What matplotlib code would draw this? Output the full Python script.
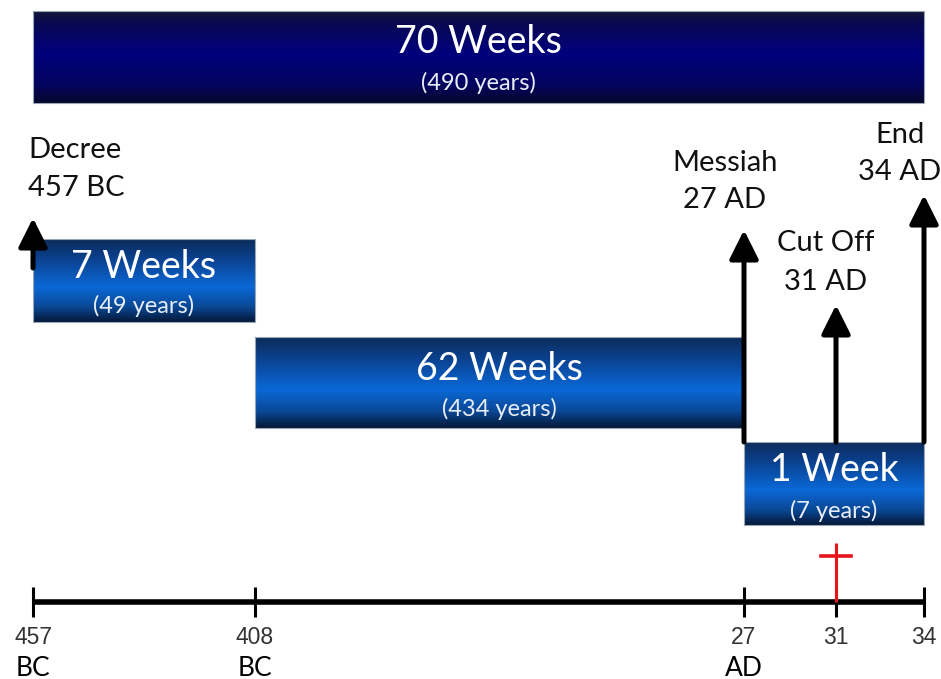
import numpy as np
import matplotlib
matplotlib.use("Agg")
import matplotlib.pyplot as plt
from matplotlib.colors import LinearSegmentedColormap

# ---------------- data ----------------
periods = ["70 Weeks", "7 Weeks", "62 Weeks", "1 Week"]
period_years = ["(490 years)", "(49 years)", "(434 years)", "(7 years)"]
period_start = [-457, -457, -408, 27]
period_end = [34, -408, 27, 34]

event_names = ["Decree", "Messiah", "Cut Off", "End"]
event_dates = ["457 BC", "27 AD", "31 AD", "34 AD"]
event_year = [-457, 27, 31, 34]

tick_years = [-457, -408, 27, 31, 34]
tick_nums = ["457", "408", "27", "31", "34"]
tick_era = ["BC", "BC", "AD", "", ""]

cross_year = 31

# ---------------- layout (schematic, non-linear time axis) ----------------
W, H = 941, 679
ANCHOR_YEARS = np.array([-457, -408, 27, 31, 34], dtype=float)
ANCHOR_PX = np.array([33, 255, 744, 836, 924], dtype=float)


def fwd(x):
    x = np.asarray(x, dtype=float)
    out = np.interp(x, ANCHOR_YEARS, ANCHOR_PX)
    s0 = (ANCHOR_PX[1] - ANCHOR_PX[0]) / (ANCHOR_YEARS[1] - ANCHOR_YEARS[0])
    s1 = (ANCHOR_PX[-1] - ANCHOR_PX[-2]) / (ANCHOR_YEARS[-1] - ANCHOR_YEARS[-2])
    out = np.where(x < ANCHOR_YEARS[0], ANCHOR_PX[0] + (x - ANCHOR_YEARS[0]) * s0, out)
    out = np.where(x > ANCHOR_YEARS[-1], ANCHOR_PX[-1] + (x - ANCHOR_YEARS[-1]) * s1, out)
    return out


def inv(p):
    p = np.asarray(p, dtype=float)
    out = np.interp(p, ANCHOR_PX, ANCHOR_YEARS)
    s0 = (ANCHOR_YEARS[1] - ANCHOR_YEARS[0]) / (ANCHOR_PX[1] - ANCHOR_PX[0])
    s1 = (ANCHOR_YEARS[-1] - ANCHOR_YEARS[-2]) / (ANCHOR_PX[-1] - ANCHOR_PX[-2])
    out = np.where(p < ANCHOR_PX[0], ANCHOR_YEARS[0] + (p - ANCHOR_PX[0]) * s0, out)
    out = np.where(p > ANCHOR_PX[-1], ANCHOR_YEARS[-1] + (p - ANCHOR_PX[-1]) * s1, out)
    return out


bar_rows = [(11, 103), (239, 322), (337, 428), (442, 525)]
title_y = [42, 267, 369, 470]
sub_y = [83, 306, 409, 511]
title_size = [27, 27, 27, 27]
sub_size = [17, 17, 17, 17]

navy = LinearSegmentedColormap.from_list(
    "navy", [(0, "#14143a"), (0.12, "#080850"), (0.45, "#00007c"), (0.8, "#040460"), (1, "#06062e")])
blue = LinearSegmentedColormap.from_list(
    "blue", [(0, "#0c2c5a"), (0.22, "#0a3f8c"), (0.58, "#0a68d6"), (0.82, "#0a4896"), (1, "#041a3c")])
bar_cmaps = [navy, blue, blue, blue]

arrow_bottom = [268, 442, 442, 442]
arrow_top = [218, 230, 305, 195]
label_dx = [-5, -19, -10, -24]
label_ha = ["left", "center", "center", "center"]
label_y1 = [150, 163, 243, 135]
label_y2 = [188, 200, 282, 172]

LABEL_FONT = ["Lato", "DejaVu Sans"]
NUM_FONT = ["Liberation Sans", "DejaVu Sans"]

fig = plt.figure(figsize=(W / 100, H / 100), dpi=100)
ax = fig.add_axes([0, 0, 1, 1])
ax.set_xscale("function", functions=(fwd, inv))
ax.set_xlim(float(inv(0)), float(inv(W)))
ax.set_ylim(H, 0)
ax.axis("off")

# ---------------- gradient bars ----------------
n = 60
for i, (s, e) in enumerate(zip(period_start, period_end)):
    top, bot = bar_rows[i]
    edges = np.linspace(top, bot, n + 1)
    centers = (edges[:-1] + edges[1:]) / 2
    hgt = (bot - top) / n
    cols = [bar_cmaps[i](k / (n - 1)) for k in range(n)]
    ax.barh(centers, [e - s] * n, left=s, height=hgt * 1.05, color=cols, linewidth=0, zorder=2)
    ax.barh([(top + bot) / 2], [e - s], left=s, height=bot - top, facecolor="none",
            edgecolor="#9aa6b4", linewidth=0.8, zorder=3)
    xc = float(inv((fwd(s) + fwd(e)) / 2))
    ax.text(xc, title_y[i], periods[i], ha="center", va="center", color="white",
            fontsize=title_size[i], family=LABEL_FONT, zorder=4)
    ax.text(xc, sub_y[i], period_years[i], ha="center", va="center", color="#e8eef8",
            fontsize=sub_size[i], family=LABEL_FONT, zorder=4)

# ---------------- event arrows & labels ----------------
for i, yr in enumerate(event_year):
    ax.annotate("", xy=(yr, arrow_top[i]), xytext=(yr, arrow_bottom[i]),
                arrowprops=dict(arrowstyle="-|>,head_length=0.8,head_width=0.4",
                                lw=3.6, color="black", shrinkA=0, shrinkB=0,
                                mutation_scale=22), zorder=5)
    for txt, yy in ((event_names[i], label_y1[i]), (event_dates[i], label_y2[i])):
        ax.annotate(txt, xy=(yr, yy), xytext=(label_dx[i], 0), textcoords="offset pixels",
                    ha=label_ha[i], va="center", fontsize=21, family=LABEL_FONT,
                    color="#111111", zorder=5)

# ---------------- timeline ----------------
line_y = 602
ax.plot([tick_years[0], tick_years[-1]], [line_y, line_y], color="black", lw=4,
        solid_capstyle="butt", zorder=3)
ax.vlines(tick_years, line_y - 15, line_y + 15, color="black", lw=2.2, zorder=3)
for yr, num, era in zip(tick_years, tick_nums, tick_era):
    ax.text(yr, 638, num, ha="center", va="center", fontsize=16.5, family=NUM_FONT, color="#333333")
    if era:
        ax.text(yr, 668, era, ha="center", va="center", fontsize=19, family=LABEL_FONT, color="black")

# red cross
ax.vlines([cross_year], 543, line_y, color="#e8141c", lw=2.2, zorder=4)
cx = fwd(cross_year)
ax.plot([float(inv(cx - 15)), float(inv(cx + 15))], [556, 556], color="#e8141c", lw=2.6, zorder=4)

fig.savefig("out.png", dpi=100, facecolor="white")
